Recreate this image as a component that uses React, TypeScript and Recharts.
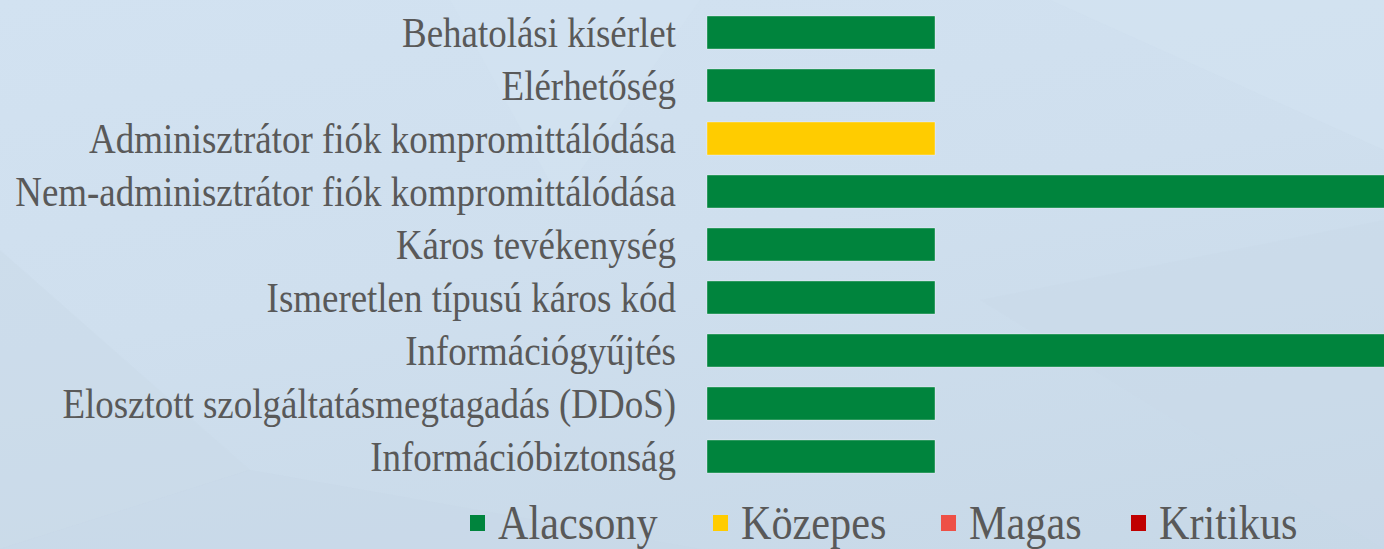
import React from "react";
import { BarChart, Bar, XAxis, YAxis, Legend } from "recharts";

const categories = [
  "Behatolási kísérlet",
  "Elérhetőség",
  "Adminisztrátor fiók kompromittálódása",
  "Nem-adminisztrátor fiók kompromittálódása",
  "Káros tevékenység",
  "Ismeretlen típusú káros kód",
  "Információgyűjtés",
  "Elosztott szolgáltatásmegtagadás (DDoS)",
  "Információbiztonság",
];

const alacsony = [1, 1, 0, 3, 1, 1, 3, 1, 1];
const kozepes = [0, 0, 1, 0, 0, 0, 0, 0, 0];
const magas = [0, 0, 0, 0, 0, 0, 0, 0, 0];
const kritikus = [0, 0, 0, 0, 0, 0, 0, 0, 0];

const seriesNames = ["Alacsony", "Közepes", "Magas", "Kritikus"];
const seriesColors = ["#00843D", "#FFCC00", "#EE5046", "#C00000"];

const data = categories.map((name, i) => ({
  name,
  a: alacsony[i],
  k: kozepes[i],
  m: magas[i],
  kr: kritikus[i],
}));

const FONT = "'Liberation Serif', 'Times New Roman', serif";
const TEXT = "#595959";

const Tick = (props: any) => {
  const { x, y, payload } = props;
  return (
    <g transform={`translate(${x},${y})`}>
      <text
        transform="scale(0.88,1)"
        textAnchor="end"
        dy="0.34em"
        fill={TEXT}
        fontSize={42}
        fontFamily={FONT}
      >
        {payload.value}
      </text>
    </g>
  );
};

const LegendContent = (props: any) => {
  const payload = [...(props.payload || [])].sort(
    (p: any, q: any) => seriesNames.indexOf(p.value) - seriesNames.indexOf(q.value)
  );
  return (
    <div
      style={{
        display: "flex",
        alignItems: "flex-start",
        paddingLeft: 470,
        paddingTop: 16,
        height: 50,
        boxSizing: "content-box",
        fontFamily: FONT,
        color: TEXT,
      }}
    >
      {payload.map((p: any, i: number) => (
        <div key={i} style={{ display: "flex", alignItems: "center", marginRight: 34, height: 48 }}>
          <span
            style={{
              display: "inline-block",
              width: 15,
              height: 16,
              background: p.color,
              marginRight: 13,
            }}
          />
          <span
            style={{
              display: "inline-block",
              fontSize: 48,
              lineHeight: "48px",
              transform: "scaleX(0.88)",
              transformOrigin: "left center",
              whiteSpace: "nowrap",
            }}
          >
            {p.value}
          </span>
        </div>
      ))}
    </div>
  );
};

export default function App() {
  const keys = ["a", "k", "m", "kr"];
  return (
    <div
      style={{
        position: "fixed",
        left: 0,
        top: 0,
        width: 1384,
        height: 549,
        overflow: "hidden",
        background: "linear-gradient(170deg, #d2e2f1 0%, #cfdfee 45%, #c7d8e7 100%)",
      }}
    >
      <svg width={1384} height={549} style={{ position: "absolute", left: 0, top: 0 }}>
        <polygon points="0,250 250,470 0,549" fill="#c9d9e8" opacity={0.5} />
        <polygon points="250,470 700,549 0,549" fill="#c8d8e7" opacity={0.5} />
        <polygon points="980,300 1384,220 1384,549" fill="#c9d9e8" opacity={0.45} />
        <polygon points="450,0 560,200 700,0" fill="#d4e3f1" opacity={0.5} />
        <polygon points="1050,0 1384,0 1384,150" fill="#d4e4f2" opacity={0.5} />
      </svg>
      <div style={{ position: "absolute", left: 0, top: 0 }}>
        <BarChart
          width={1391}
          height={549}
          data={data}
          layout="vertical"
          margin={{ top: 6, right: 0, bottom: 0, left: 0 }}
        >
          <XAxis type="number" hide domain={[0, 3]} />
          <YAxis
            type="category"
            dataKey="name"
            width={707}
            tickLine={false}
            axisLine={false}
            tick={<Tick />}
            tickMargin={25}
            interval={0}
          />
          <Legend verticalAlign="bottom" content={<LegendContent />} />
          {keys.map((k, i) => (
            <Bar
              key={k}
              dataKey={k}
              name={seriesNames[i]}
              stackId="s"
              fill={seriesColors[i]}
              stroke="rgba(255,255,255,0.35)"
              strokeWidth={1}
              barSize={33}
              isAnimationActive={false}
            />
          ))}
        </BarChart>
      </div>
    </div>
  );
}
